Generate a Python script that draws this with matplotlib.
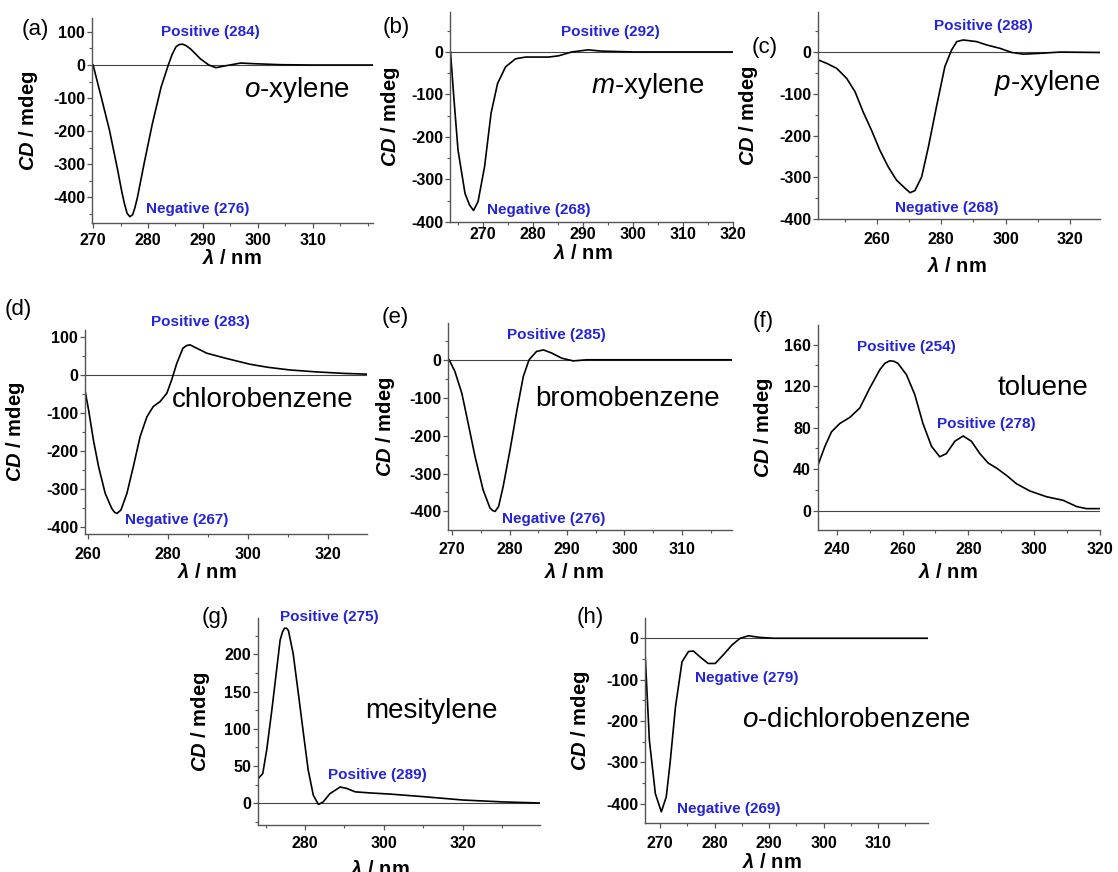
import matplotlib
matplotlib.use('Agg')
import matplotlib.pyplot as plt
from matplotlib.ticker import MultipleLocator

plt.rcParams['font.family'] = ['Liberation Sans', 'DejaVu Sans']
plt.rcParams['axes.unicode_minus'] = False
plt.rcParams['mathtext.fontset'] = 'custom'
plt.rcParams['mathtext.rm'] = 'Liberation Sans'
plt.rcParams['mathtext.it'] = 'Liberation Sans:italic:bold'
plt.rcParams['mathtext.bf'] = 'Liberation Sans:bold'
plt.rcParams['mathtext.sf'] = 'Liberation Sans:italic'

# ---- data (wavelength nm, CD mdeg) ----
a_wl = [270, 271.5, 273, 274.5, 275.2, 275.7, 276.2, 276.7, 277.2, 277.6, 278.1, 279.3,
        280.8, 282.4, 283.7, 284.4, 285.1, 285.7, 286.3, 287, 287.8, 289.6, 291.1, 292.4,
        293.9, 296.9, 299.3, 304.2, 310, 321]
a_cd = [0, -98, -198, -319, -380, -418, -448, -458, -452, -432, -398, -297,
        -177, -66, 0, 32, 55, 62, 63, 58, 48, 18, 0, -8,
        -3, 6, 4, 1, 0, 0]

b_wl = [263.6, 264.2, 265.1, 266.5, 267.4, 268.2, 269.1, 270.4, 271.7, 273, 274.6, 276.6,
        278.6, 280.6, 283.2, 285.2, 287.8, 291.1, 293.7, 300.3, 320]
b_cd = [0, -97, -231, -333, -360, -373, -352, -270, -144, -74, -35, -16,
        -12, -12, -12, -9, 0, 5, 2, 0, 0]

c_wl = [241.8, 244.4, 247.5, 250.6, 253.2, 255.7, 258.3, 260.9, 263.5, 266.1, 268.7, 270.3,
        271.8, 273.9, 276, 278.5, 281.1, 283.2, 284.8, 286.8, 291, 294.1, 298.2, 301.9,
        305.5, 310.7, 316.9, 329.3]
c_cd = [-19, -27, -39, -63, -95, -143, -187, -235, -275, -307, -326, -337,
        -332, -299, -227, -131, -35, 5, 25, 29, 25, 17, 9, -1,
        -5, -3, 0, -1]

d_wl = [259.1, 260.1, 261.3, 262.6, 264.25, 265.9, 266.6, 267.2, 268.2, 269.7, 271.3, 273,
        274.7, 276.3, 278, 279.7, 280.9, 282.2, 283.7, 284.6, 285.5, 287.2, 289.7, 294.7,
        300.5, 305, 310.5, 317, 324, 329.7]
d_cd = [-35, -92, -171, -241, -311, -351, -361, -364, -355, -311, -241, -162,
        -110, -83, -70, -48, -13, 31, 70, 77, 79, 70, 57, 43,
        28, 20, 13, 8, 4, 2]

e_wl = [269.5, 270.5, 271.7, 272.8, 274, 275.4, 276.6, 277.1, 277.5, 278.1, 278.9, 280.1,
        281.3, 282.4, 283.4, 284.7, 285.9, 287.3, 289.1, 291.1, 293.4, 318.7]
e_cd = [0, -31, -88, -167, -255, -343, -391, -398, -400, -387, -334, -237,
        -132, -44, 0, 22, 26, 18, 4, -3, 0, 0]

f_wl = [234.3, 236.4, 238.4, 240.9, 244, 247, 250, 253.1, 254.6, 256.1, 257.4, 258.6,
        261.2, 263.7, 266.2, 268.8, 271.3, 273.3, 275.9, 278.4, 280.9, 283.5, 286, 288.6,
        291.6, 294.6, 298.7, 303.7, 308.8, 312.9, 315.9, 320]
f_cd = [44, 62, 76, 84, 90, 99, 118, 136, 142, 144.5, 144, 142,
        131, 112, 84, 62, 52, 55, 67, 72, 67, 55, 46, 41,
        34, 26, 19, 13.5, 10, 4, 2, 2]

g_wl = [268.2, 269.3, 270.3, 271.6, 272.7, 273.7, 274.3, 274.8, 275.3, 275.8, 277, 278.3,
        279.6, 280.8, 282.1, 283.4, 284.6, 286.3, 288.9, 290.6, 292.7, 296.5, 301.5, 310,
        320, 330, 339.5]
g_cd = [33.5, 40, 71.5, 125, 174, 219, 230, 235, 235, 232, 201, 148,
        94, 45, 11, -1.5, 2, 13, 22, 20, 15.5, 14, 12.5, 9,
        4.5, 2, 0.5]

h_wl = [267.1, 267.4, 268, 269.1, 270.2, 271.1, 271.8, 272.8, 274, 275.2, 276.1, 277.3,
        278.8, 280.1, 281.6, 283.2, 284.7, 286.2, 288.3, 290.8, 319.2]
h_cd = [-4, -85, -246, -376, -420, -384, -303, -166, -57, -32, -31, -45,
        -61, -61, -40, -16, 0, 6, 2, 0, 0]

names = [r'$\mathsf{o}$-xylene', r'$\mathsf{m}$-xylene', r'$\mathsf{p}$-xylene',
         'chlorobenzene', 'bromobenzene', 'toluene', 'mesitylene',
         r'$\mathsf{o}$-dichlorobenzene']
letters = ['(a)', '(b)', '(c)', '(d)', '(e)', '(f)', '(g)', '(h)']
peak_labels = [
    [('Positive (284)', 291.3, 100), ('Negative (276)', 289.1, -435)],
    [('Positive (292)', 295.5, 48), ('Negative (268)', 281.2, -372)],
    [('Positive (288)', 293.1, 62), ('Negative (268)', 281.7, -374)],
    [('Positive (283)', 288.0, 140), ('Negative (267)', 282.2, -380)],
    [('Positive (285)', 288.1, 66), ('Negative (276)', 287.6, -420)],
    [('Positive (254)', 261.2, 158), ('Positive (278)', 285.3, 84)],
    [('Positive (275)', 286.2, 250), ('Positive (289)', 298.3, 38)],
    [('Negative (279)', 285.9, -97), ('Negative (269)', 282.5, -412)],
]
name_pos = [(307.2, -96), (303, -97), (312.8, -91), (303.6, -83),
            (300.5, -123), (302.7, 112), (312.1, 114), (306.0, -214)]

# ---- layout (pixels: left, top, right, bottom) ----
W, H = 1118, 872
boxes = [(92, 18, 373, 223), (450, 12, 733, 222), (818, 12, 1100, 219),
         (85, 330, 367, 534), (448, 323, 732, 530), (818, 325, 1100, 530),
         (258, 618, 540, 825), (645, 618, 928, 823)]
xlims = [(269.8, 321), (263.5, 320), (241.7, 329.3), (259.2, 329.8),
         (269.3, 318.7), (234.3, 320), (268.1, 339.5), (267.2, 319.2)]
ylims = [(-477, 142), (-400, 94), (-400, 96), (-418, 118),
         (-449, 97), (-18.6, 179), (-29, 248.7), (-447, 49)]
xticks = [range(270, 311, 10), range(270, 321, 10), range(260, 321, 20), range(260, 321, 20),
          range(270, 311, 10), range(240, 321, 20), range(280, 321, 20), range(270, 311, 10)]
xminor = [5, 5, 10, 10, 5, 10, 10, 5]
ymajor = [100, 100, 100, 100, 100, 40, 50, 100]
yminor = [50, 50, 50, 50, 50, 20, 25, 50]
xpads = [4, 0, 5.5, 5.5, 5.5, 5.5, 4.5, 5.5]
letter_pos = [(22, 29), (383, 27), (752, 47), (5, 310), (382, 318), (753, 321), (202, 617), (577, 617)]
ylab_right = [40, 402, 760, 27, 397, 775, 212, 592]
xlab_pos = [(232, 249), (583, 244), (957, 257), (207, 563), (574, 563), (948, 563), (380, 860), (772, 853)]

series = [(a_wl, a_cd), (b_wl, b_cd), (c_wl, c_cd), (d_wl, d_cd),
          (e_wl, e_cd), (f_wl, f_cd), (g_wl, g_cd), (h_wl, h_cd)]

fig = plt.figure(figsize=(W / 100, H / 100), dpi=100)
axis_col = '#555555'
blue = '#2424d8'

for i in range(8):
    l, t, r, b = boxes[i]
    ax = fig.add_axes([l / W, 1 - b / H, (r - l) / W, (b - t) / H])
    wl, cd = series[i]
    ax.axhline(0, color='#444444', lw=0.8, zorder=1)
    ax.plot(wl, cd, color='black', lw=1.2, zorder=2, solid_joinstyle='round')
    ax.set_xlim(*xlims[i])
    ax.set_ylim(*ylims[i])
    ax.set_xticks(list(xticks[i]))
    ax.xaxis.set_minor_locator(MultipleLocator(xminor[i]))
    ax.yaxis.set_major_locator(MultipleLocator(ymajor[i]))
    ax.yaxis.set_minor_locator(MultipleLocator(yminor[i]))
    for s in ['top', 'right']:
        ax.spines[s].set_visible(False)
    for s in ['left', 'bottom']:
        ax.spines[s].set_color(axis_col)
        ax.spines[s].set_linewidth(1.0)
    ax.tick_params(which='major', direction='out', length=3.5, width=0.9, color=axis_col,
                   labelsize=11.5)
    ax.tick_params(which='minor', direction='out', length=2, width=0.8, color=axis_col)
    ax.tick_params(axis='y', pad=1.5)
    ax.tick_params(axis='x', pad=xpads[i])
    for lab in ax.get_xticklabels() + ax.get_yticklabels():
        lab.set_fontweight('bold')

    ax.set_ylabel(r'$CD$ / mdeg', fontsize=14.5, fontweight='bold')
    ax.yaxis.set_label_coords((ylab_right[i] - l) / (r - l), 0.5)
    ax.set_xlabel(r'$\lambda$ / nm', fontsize=14.5, fontweight='bold')
    xx, yy = xlab_pos[i]
    ax.xaxis.set_label_coords((xx - l) / (r - l), (b - yy) / (b - t))

    for txt, px, py in peak_labels[i]:
        ax.text(px, py, txt, color=blue, fontsize=11, fontweight='bold',
                ha='center', va='center')
    nx, ny = name_pos[i]
    ax.text(nx, ny, names[i], fontsize=20, ha='center', va='baseline')

    lx, ly = letter_pos[i]
    fig.text(lx / W, 1 - ly / H, letters[i], fontsize=16, ha='left', va='center')

fig.savefig('out.png', dpi=100)
